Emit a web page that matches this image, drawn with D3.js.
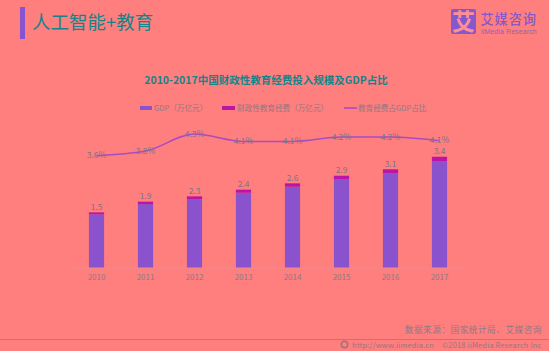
<!DOCTYPE html>
<html>
<head>
<meta charset="utf-8">
<script src="https://cdn.jsdelivr.net/npm/d3@7"></script>
<style>
  html, body { margin: 0; padding: 0; background: #ff7e7e; }
  svg { display: block; }
  text { font-family: "Noto Sans CJK SC", "Noto Sans", sans-serif; }
</style>
</head>
<body>
<div class="canvas"></div>
<script>
// values
const years = ['2010', '2011', '2012', '2013', '2014', '2015', '2016', '2017'];
const gdp = [41.4, 49.3, 53, 58.1, 62.8, 68.4, 73.2, 82.6];
const eduSpend = [1.5, 1.9, 2.3, 2.4, 2.6, 2.9, 3.1, 3.4];
const eduShare = [3.6, 3.75, 4.3, 4.06, 4.06, 4.2, 4.2, 4.08];

const legendLabels = ['GDP\uFF08万亿元\uFF09', '财政性教育经费\uFF08万亿元\uFF09', '教育经费占GDP占比'];

const colGdp = '#8a52cc';
const colEdu = '#bd14a6';
const colLine = '#a84cc4';
const colTeal = '#13858a';
const colGrey = '#8f7a84';
const colLabel = '#7d7488';

const svg = d3.select('.canvas')
  .append('svg')
    .attr('width', 549)
    .attr('height', 351);

// header
svg.append('rect')
  .attr('x', 20).attr('y', 7).attr('width', 5).attr('height', 32)
  .attr('fill', colGdp);
svg.append('text')
  .attr('x', 32).attr('y', 29)
  .attr('font-size', 18.5)
  .attr('fill', colTeal)
  .text('人工智能+教育');

// logo
svg.append('rect')
  .attr('x', 451).attr('y', 9).attr('width', 25).attr('height', 25).attr('rx', 2)
  .attr('fill', '#8558cc');
svg.append('text')
  .attr('x', 463.5).attr('y', 29.5)
  .attr('text-anchor', 'middle')
  .attr('font-size', 23).attr('font-weight', 700)
  .attr('fill', '#ff8f96')
  .text('艾');
svg.append('text')
  .attr('x', 480.5).attr('y', 23.5)
  .attr('font-size', 13.2).attr('font-weight', 500)
  .attr('letter-spacing', 0.9)
  .attr('fill', '#8558cc')
  .text('艾媒咨询');
svg.append('text')
  .attr('x', 481).attr('y', 33.5)
  .attr('font-size', 6.8)
  .attr('letter-spacing', 0.2)
  .style('font-family', '"Liberation Sans", sans-serif')
  .attr('fill', '#8a66b8')
  .text('iiMedia Research');

// chart title
svg.append('text')
  .attr('x', 266).attr('y', 84)
  .attr('text-anchor', 'middle')
  .attr('font-size', 10.5).attr('font-weight', 700)
  .attr('fill', colTeal)
  .text('2010-2017中国财政性教育经费投入规模及GDP占比');

// legend
const legendY = 108;
const legendItems = [
  {x: 140, w: 12, h: 4, col: colGdp, tx: 154},
  {x: 222, w: 13, h: 4, col: colEdu, tx: 237},
  {x: 344, w: 13, h: 1.6, col: colLine, tx: 358}
];
legendItems.forEach((d, i) => {
  svg.append('rect')
    .attr('x', d.x).attr('y', legendY - d.h / 2)
    .attr('width', d.w).attr('height', d.h)
    .attr('fill', d.col);
  svg.append('text')
    .attr('x', d.tx).attr('y', legendY + 3)
    .attr('font-size', 7.6)
    .attr('fill', colGrey)
    .text(legendLabels[i]);
});

// scales
const x = d3.scaleBand()
  .domain(years)
  .range([72, 464])
  .paddingInner(0.69)
  .paddingOuter(0.345);

const y = d3.scaleLinear()
  .domain([0, 100])
  .range([267.7, 138.7]);

const yShare = d3.scaleLinear()
  .domain([3.6, 4.3])
  .range([155.7, 134]);

// stacked bars
const graph = svg.append('g');

graph.selectAll('rect.gdp')
  .data(years)
  .enter().append('rect')
    .attr('class', 'gdp')
    .attr('x', d => x(d))
    .attr('width', x.bandwidth())
    .attr('y', (d, i) => y(gdp[i]))
    .attr('height', (d, i) => y(0) - y(gdp[i]))
    .attr('fill', colGdp);

graph.selectAll('rect.edu')
  .data(years)
  .enter().append('rect')
    .attr('class', 'edu')
    .attr('x', d => x(d))
    .attr('width', x.bandwidth())
    .attr('y', (d, i) => y(gdp[i] + eduSpend[i]))
    .attr('height', (d, i) => y(gdp[i]) - y(gdp[i] + eduSpend[i]))
    .attr('fill', colEdu);

// bar labels
graph.selectAll('text.bar-label')
  .data(years)
  .enter().append('text')
    .attr('class', 'bar-label')
    .attr('x', d => x(d) + x.bandwidth() / 2)
    .attr('y', (d, i) => y(gdp[i] + eduSpend[i]) - 2.5)
    .attr('text-anchor', 'middle')
    .attr('font-size', 8.4)
    .attr('fill', colLabel)
    .text((d, i) => eduSpend[i].toFixed(1));

// share line
const line = d3.line()
  .x((d, i) => x(years[i]) + x.bandwidth() / 2)
  .y(d => yShare(d))
  .curve(d3.curveMonotoneX);

graph.append('path')
  .datum(eduShare)
  .attr('d', line)
  .attr('fill', 'none')
  .attr('stroke', colLine)
  .attr('stroke-width', 1.5);

graph.selectAll('text.line-label')
  .data(eduShare)
  .enter().append('text')
    .attr('class', 'line-label')
    .attr('x', (d, i) => x(years[i]) + x.bandwidth() / 2)
    .attr('y', d => yShare(d) + 2.5)
    .attr('text-anchor', 'middle')
    .attr('font-size', 8.4)
    .attr('fill', colLabel)
    .text(d => d.toFixed(1) + '%');

// x axis
const xAxisGroup = svg.append('g')
  .attr('transform', `translate(0, ${y(0)})`)
  .call(d3.axisBottom(x).tickSize(0).tickPadding(7));

xAxisGroup.select('.domain').attr('stroke', '#f08a8c');
xAxisGroup.selectAll('text')
  .attr('font-family', '"Noto Sans CJK SC", sans-serif')
  .attr('font-size', 8)
  .attr('fill', colGrey);

// footer
svg.append('text')
  .attr('x', 542).attr('y', 333)
  .attr('text-anchor', 'end')
  .attr('font-size', 8.6)
  .attr('letter-spacing', 0.55)
  .attr('fill', colGrey)
  .text('数据来源\uFF1A国家统计局、艾媒咨询');
svg.append('line')
  .attr('x1', 0).attr('x2', 549)
  .attr('y1', 339.5).attr('y2', 339.5)
  .attr('stroke', '#a67f84');
svg.append('circle')
  .attr('cx', 344.5).attr('cy', 344.5).attr('r', 3.2)
  .attr('fill', 'none')
  .attr('stroke', colGrey)
  .attr('stroke-width', 1.5);
svg.append('text')
  .attr('x', 352).attr('y', 347.5)
  .attr('font-size', 7.4)
  .attr('letter-spacing', 0.2)
  .attr('fill', colGrey)
  .text('http://www.iimedia.cn');
svg.append('text')
  .attr('x', 442).attr('y', 347.5)
  .attr('font-size', 7.4)
  .attr('letter-spacing', 0.2)
  .attr('fill', colGrey)
  .text('©2018  iiMedia Research  Inc');
</script>
</body>
</html>
